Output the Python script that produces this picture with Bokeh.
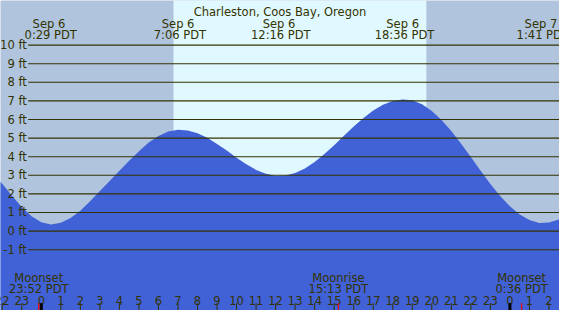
from bokeh.plotting import figure
from bokeh.models import Range1d
from bokeh.core.properties import value
from bokeh.embed import file_html
from bokeh.resources import INLINE

# ---------------- data ----------------
title = "Charleston, Coos Bay, Oregon"

# tide height (ft) versus hours after Sep 6 00:00 PDT
hours = [-2.5, -2.0, -1.5, -1.0, -0.5, 0.0, 0.5, 1.0, 1.5, 2.0, 2.5, 3.0, 3.5, 4.0,
         4.5, 5.0, 5.5, 6.0, 6.5, 7.0, 7.5, 8.0, 8.5, 9.0, 9.5, 10.0, 10.5, 11.0,
         11.5, 12.0, 12.5, 13.0, 13.5, 14.0, 14.5, 15.0, 15.5, 16.0, 16.5, 17.0,
         17.5, 18.0, 18.5, 19.0, 19.5, 20.0, 20.5, 21.0, 21.5, 22.0, 22.5, 23.0,
         23.5, 24.0, 24.5, 25.0, 25.5, 26.0, 26.5, 27.0]
heights = [3.05, 2.55, 1.90, 1.30, 0.80, 0.47, 0.35, 0.45, 0.70, 1.10, 1.60, 2.15,
           2.70, 3.25, 3.78, 4.30, 4.76, 5.11, 5.35, 5.45, 5.41, 5.26, 5.02, 4.69,
           4.33, 3.95, 3.59, 3.29, 3.08, 2.98, 2.99, 3.13, 3.37, 3.72, 4.15, 4.62,
           5.13, 5.62, 6.08, 6.48, 6.79, 6.99, 7.08, 7.03, 6.82, 6.46, 5.97, 5.38,
           4.70, 3.98, 3.24, 2.53, 1.89, 1.33, 0.89, 0.59, 0.44, 0.46, 0.62, 0.85]

extreme_hours = [0.483, 7.1, 12.267, 18.6, 25.683]
extreme_dates = ["Sep  6", "Sep  6", "Sep  6", "Sep  6", "Sep  7"]
extreme_labels = ["0:29 PDT", "7:06 PDT", "12:16 PDT", "18:36 PDT", "1:41 PDT"]

sun_hours = [6.77, 19.72]          # sunrise, sunset

moon_hours = [-0.133, 15.217, 24.6]
moon_names = ["Moonset", "Moonrise", "Moonset"]
moon_labels = ["23:52 PDT", "15:13 PDT", "0:36 PDT"]

level_ticks = [-1, 0, 1, 2, 3, 4, 5, 6, 7, 8, 9, 10]
level_labels = ["-1 ft", "0 ft", "1 ft", "2 ft", "3 ft", "4 ft", "5 ft", "6 ft",
                "7 ft", "8 ft", "9 ft", "10 ft"]

hour_ticks = list(range(-2, 27))
hour_labels = [str(h % 24) for h in hour_ticks]
midnights = [0, 24]

# ---------------- layout / style ----------------
W, H = 559, 310
X0, X1 = -2.09, 26.54
Y0, Y1 = -4.27, 12.4
SX = W / 575.0
SY = H / 326.0
PPX = W / (X1 - X0)
PPY = H / (Y1 - Y0)

def ydata(px):
    return Y1 - px / PPY

NIGHT = "#b0c4de"
DAY = "#e0f8ff"
WATER = "#4161d6"
INK = "#333300"
FONT = value("DejaVu Sans")
FS = "11.5px"

p = figure(width=W, height=H, x_range=Range1d(X0, X1), y_range=Range1d(Y0, Y1),
           output_backend="svg", toolbar_location=None, min_border=0,
           x_axis_location=None, y_axis_location=None)
p.grid.visible = False
p.outline_line_color = None
p.background_fill_color = NIGHT
p.border_fill_color = NIGHT

# daylight band
p.quad(left=[sun_hours[0]], right=[sun_hours[1]], bottom=Y0 - 1, top=Y1 + 1,
       fill_color=DAY, line_color=None)

# water
p.varea(x=hours, y1=Y0 - 1, y2=heights, fill_color=WATER)

# level lines
gx0 = X0 + 28.5 * SX / PPX
p.segment(x0=[gx0] * len(level_ticks), x1=[X1 + 1] * len(level_ticks),
          y0=level_ticks, y1=level_ticks, line_color=INK, line_width=1.1)
p.text(x=[X0] * len(level_ticks), y=level_ticks, text=level_labels,
       x_offset=27 * SX, text_align="right", text_baseline="middle",
       text_font=FONT, text_font_size=FS, text_color=INK)

# title and tide extremes on top
p.text(x=[(X0 + X1) / 2], y=[Y1], text=[title], y_offset=11.7 * SY,
       text_align="center", text_baseline="alphabetic",
       text_font=FONT, text_font_size=FS, text_color=INK)
p.text(x=extreme_hours, y=[Y1] * len(extreme_hours), text=extreme_dates,
       y_offset=25 * SY, text_align="center", text_baseline="alphabetic",
       text_font=FONT, text_font_size=FS, text_color=INK)
p.text(x=extreme_hours, y=[Y1] * len(extreme_hours), text=extreme_labels,
       y_offset=36 * SY, text_align="center", text_baseline="alphabetic",
       text_font=FONT, text_font_size=FS, text_color=INK)

# moon events at the bottom
p.text(x=moon_hours, y=[Y1] * len(moon_hours), text=moon_names,
       y_offset=291.7 * SY, text_align="center", text_baseline="alphabetic",
       text_font=FONT, text_font_size=FS, text_color=INK)
p.text(x=moon_hours, y=[Y1] * len(moon_hours), text=moon_labels,
       y_offset=303.3 * SY, text_align="center", text_baseline="alphabetic",
       text_font=FONT, text_font_size=FS, text_color=INK)

# hour scale
p.text(x=hour_ticks, y=[Y1] * len(hour_ticks), text=hour_labels,
       y_offset=316 * SY, text_align="center", text_baseline="alphabetic",
       text_font=FONT, text_font_size=FS, text_color=INK)
ty0 = ydata(318.3 * SY)
p.segment(x0=hour_ticks, x1=hour_ticks, y0=[ty0] * len(hour_ticks),
          y1=[Y0 - 1] * len(hour_ticks), line_color=INK, line_width=1)
p.segment(x0=midnights, x1=midnights, y0=[ty0] * len(midnights),
          y1=[Y0 - 1] * len(midnights), line_color="black", line_width=3)
p.segment(x0=moon_hours, x1=moon_hours, y0=[ty0] * len(moon_hours),
          y1=[Y0 - 1] * len(moon_hours), line_color="red", line_width=1.2)

open("out.html", "w").write(file_html(p, INLINE))
